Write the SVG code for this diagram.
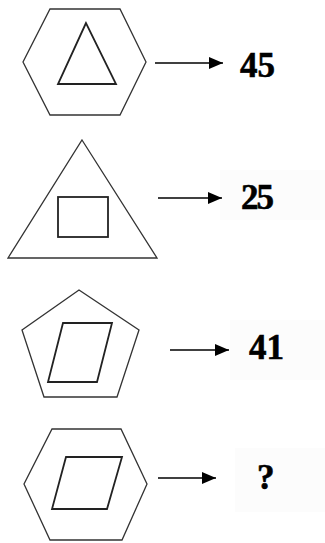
<svg xmlns="http://www.w3.org/2000/svg" width="325" height="543" viewBox="0 0 325 543">
<style>
.sh{fill:none;stroke:#333;stroke-width:1.3;stroke-linejoin:miter}
.in{fill:none;stroke:#222;stroke-width:1.8}
.ar{stroke:#000;stroke-width:1.4;fill:none}
.lb{font-family:"Liberation Serif",serif;font-weight:bold;font-size:35px;fill:#000;stroke:#000;stroke-width:0.6}
.bg{fill:#fcfcfc}
</style>
<defs>
<marker id="ah" markerWidth="14" markerHeight="12" refX="14" refY="6" orient="auto" markerUnits="userSpaceOnUse">
<path d="M0,0 L14,6 L0,12 Z" fill="#000"/>
</marker>
</defs>
<rect width="325" height="543" fill="#fff"/>
<rect class="bg" x="220" y="170" width="105" height="50"/>
<rect class="bg" x="230" y="320" width="95" height="60"/>
<rect class="bg" x="235" y="448" width="90" height="64"/>
<g id="node1">
<polygon class="sh" points="50,9 120,9 146,62 120,115 50,115 23,62"/>
<polygon class="in" points="86,23 58,84 116,84"/>
</g>
<g id="node2">
<polygon class="sh" points="82,140 157,258 8,258"/>
<rect class="in" x="58" y="197" width="50" height="40"/>
</g>
<g id="node3">
<polygon class="sh" points="79,290 139,330 117,397 44,397 22,330"/>
<polygon class="in" points="63,323 112,323 97,382 48,382"/>
</g>
<g id="node4">
<polygon class="sh" points="52,429 121,429 147,484 122,540 50,540 24,484"/>
<polygon class="in" points="66,457 122,457 107,509 52,509"/>
</g>
<g id="connectors">
<line class="ar" x1="155" y1="63" x2="223" y2="63" marker-end="url(#ah)"/>
<line class="ar" x1="158" y1="198" x2="222" y2="198" marker-end="url(#ah)"/>
<line class="ar" x1="170" y1="350" x2="229" y2="350" marker-end="url(#ah)"/>
<line class="ar" x1="158" y1="478" x2="216" y2="478" marker-end="url(#ah)"/>
</g>
<g id="labels">
<text class="lb" x="240" y="77">45</text>
<text class="lb" x="241" y="209" letter-spacing="-2">25</text>
<text class="lb" x="249" y="359">41</text>
<text class="lb" x="257" y="489">?</text>
</g>
</svg>
